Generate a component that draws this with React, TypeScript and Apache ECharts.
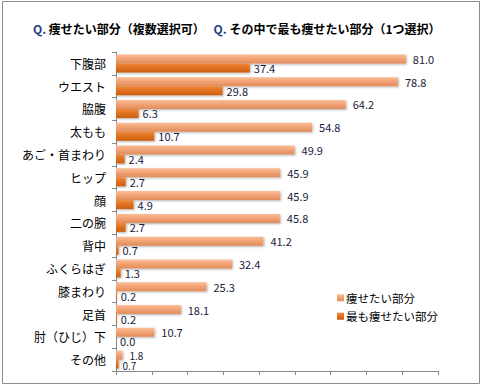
import React, { useEffect, useRef } from "react";
import * as echarts from "echarts";

const categories = ["下腹部", "ウエスト", "脇腹", "太もも", "あご・首まわり", "ヒップ", "顔", "二の腕", "背中", "ふくらはぎ", "膝まわり", "足首", "肘（ひじ）下", "その他"];
const wantThin = [81.0, 78.8, 64.2, 54.8, 49.9, 45.9, 45.9, 45.8, 41.2, 32.4, 25.3, 18.1, 10.7, 1.8];
const mostThin = [37.4, 29.8, 6.3, 10.7, 2.4, 2.7, 4.9, 2.7, 0.7, 1.3, 0.2, 0.2, 0.0, 0.7];
const seriesNames = ["痩せたい部分", "最も痩せたい部分"];

const FONT = '"Noto Sans CJK JP", "Noto Sans", sans-serif';

export default function App() {
  const ref = useRef<HTMLDivElement>(null);
  useEffect(() => {
    if (!ref.current) return;
    const chart = echarts.init(ref.current, null, { renderer: "svg" });
    const lightGrad = new echarts.graphic.LinearGradient(0, 0, 0, 1, [
      { offset: 0, color: "#F9BE98" },
      { offset: 0.5, color: "#F2A273" },
      { offset: 1, color: "#E08C5C" },
    ]);
    const darkGrad = new echarts.graphic.LinearGradient(0, 0, 0, 1, [
      { offset: 0, color: "#EF8A3A" },
      { offset: 0.5, color: "#E0701E" },
      { offset: 1, color: "#C85F14" },
    ]);
    const fmt = (p: any) => Number(p.value).toFixed(1);
    const n = categories.length;
    chart.setOption({
      animation: false,
      textStyle: { fontFamily: FONT },
      title: {
        text: "{q|Q.} 痩せたい部分（複数選択可）　 {q|Q.} その中で最も痩せたい部分（1つ選択）",
        left: 28,
        top: 17,
        textStyle: {
          fontFamily: FONT,
          fontSize: 12,
          fontWeight: "bold",
          color: "#000",
          rich: {
            q: { fontFamily: FONT, fontSize: 12, fontWeight: "bold", color: "#1F3F7F" },
          },
        },
      },
      graphic: [
        {
          type: "rect",
          shape: { x: 2.5, y: 1.5, width: 477, height: 382 },
          style: { fill: "none", stroke: "#8C8C8C", lineWidth: 1 },
          silent: true,
        },
      ],
      legend: {
        orient: "vertical",
        left: 332,
        top: 287,
        itemWidth: 7,
        itemHeight: 7,
        itemGap: 7,
        icon: "rect",
        textStyle: { fontFamily: FONT, fontSize: 11.5, color: "#000", padding: [0, 0, 0, -3] },
        data: seriesNames,
      },
      grid: { left: 116, right: 45, top: 52, bottom: 19, containLabel: false },
      xAxis: {
        type: "value",
        min: 0,
        max: 90,
        interval: 10,
        axisLine: { show: true, lineStyle: { color: "#888", width: 1 } },
        axisTick: { show: true, length: 4, lineStyle: { color: "#888" } },
        axisLabel: { show: false },
        splitLine: { show: false },
      },
      yAxis: {
        type: "category",
        inverse: true,
        data: categories,
        axisLine: { show: true, lineStyle: { color: "#888", width: 1 } },
        axisTick: { show: true, length: 4, lineStyle: { color: "#888" } },
        axisLabel: { fontFamily: FONT, fontSize: 12, color: "#000", margin: 10 },
      },
      series: [
        {
          name: seriesNames[0],
          type: "bar",
          data: wantThin.map((v, i) =>
            i === n - 1 ? { value: v, label: { fontSize: 10 } } : v
          ),
          barWidth: 9,
          barGap: "0%",
          itemStyle: {
            color: lightGrad,
            shadowColor: "rgba(0,0,0,0.3)",
            shadowBlur: 2,
            shadowOffsetX: 1,
            shadowOffsetY: 1,
          },
          label: {
            show: true,
            position: "right",
            distance: 7,
            fontFamily: FONT,
            fontSize: 11,
            color: "#1a1a3a",
            formatter: fmt,
          },
        },
        {
          name: seriesNames[1],
          type: "bar",
          data: mostThin.map((v, i) =>
            i === n - 1 ? { value: v, label: { fontSize: 10, offset: [0, 1] } } : v
          ),
          barWidth: 9,
          barGap: "0%",
          itemStyle: {
            color: darkGrad,
            shadowColor: "rgba(0,0,0,0.3)",
            shadowBlur: 2,
            shadowOffsetX: 1,
            shadowOffsetY: 1,
          },
          label: {
            show: true,
            position: "right",
            distance: 4,
            fontFamily: FONT,
            fontSize: 11,
            color: "#1a1a3a",
            formatter: fmt,
          },
        },
      ],
    });
    return () => chart.dispose();
  }, []);
  return (
    <div
      ref={ref}
      style={{ position: "absolute", left: 0, top: 0, width: 483, height: 390, background: "#fff" }}
    />
  );
}
